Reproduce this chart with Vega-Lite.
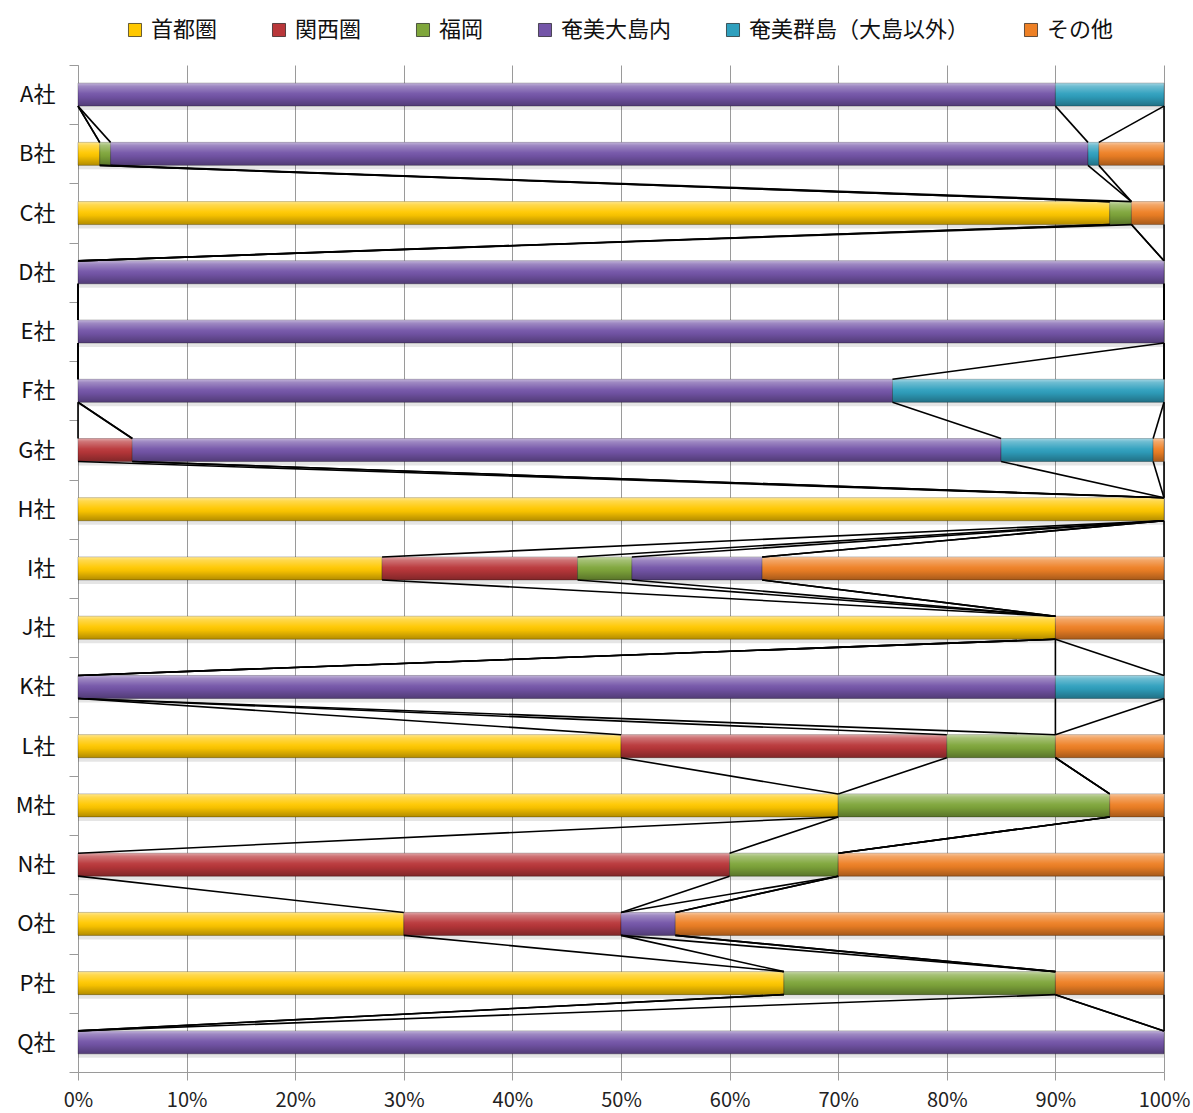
{
  "$schema": "https://vega.github.io/schema/vega-lite/v6.json",
  "autosize": "none",
  "width": 1086,
  "height": 1007,
  "padding": {"left": 78, "top": 65, "right": 29, "bottom": 41},
  "background": "white",
  "config": {
    "font": "Noto Sans CJK JP",
    "view": {"stroke": null}
  },
  "data": {
    "values": [
      {"company": "A社", "series": "首都圏", "value": 0},
      {"company": "A社", "series": "関西圏", "value": 0},
      {"company": "A社", "series": "福岡", "value": 0},
      {"company": "A社", "series": "奄美大島内", "value": 90},
      {"company": "A社", "series": "奄美群島（大島以外）", "value": 10},
      {"company": "A社", "series": "その他", "value": 0},
      {"company": "B社", "series": "首都圏", "value": 2},
      {"company": "B社", "series": "関西圏", "value": 0},
      {"company": "B社", "series": "福岡", "value": 1},
      {"company": "B社", "series": "奄美大島内", "value": 90},
      {"company": "B社", "series": "奄美群島（大島以外）", "value": 1},
      {"company": "B社", "series": "その他", "value": 6},
      {"company": "C社", "series": "首都圏", "value": 95},
      {"company": "C社", "series": "関西圏", "value": 0},
      {"company": "C社", "series": "福岡", "value": 2},
      {"company": "C社", "series": "奄美大島内", "value": 0},
      {"company": "C社", "series": "奄美群島（大島以外）", "value": 0},
      {"company": "C社", "series": "その他", "value": 3},
      {"company": "D社", "series": "首都圏", "value": 0},
      {"company": "D社", "series": "関西圏", "value": 0},
      {"company": "D社", "series": "福岡", "value": 0},
      {"company": "D社", "series": "奄美大島内", "value": 100},
      {"company": "D社", "series": "奄美群島（大島以外）", "value": 0},
      {"company": "D社", "series": "その他", "value": 0},
      {"company": "E社", "series": "首都圏", "value": 0},
      {"company": "E社", "series": "関西圏", "value": 0},
      {"company": "E社", "series": "福岡", "value": 0},
      {"company": "E社", "series": "奄美大島内", "value": 100},
      {"company": "E社", "series": "奄美群島（大島以外）", "value": 0},
      {"company": "E社", "series": "その他", "value": 0},
      {"company": "F社", "series": "首都圏", "value": 0},
      {"company": "F社", "series": "関西圏", "value": 0},
      {"company": "F社", "series": "福岡", "value": 0},
      {"company": "F社", "series": "奄美大島内", "value": 75},
      {"company": "F社", "series": "奄美群島（大島以外）", "value": 25},
      {"company": "F社", "series": "その他", "value": 0},
      {"company": "G社", "series": "首都圏", "value": 0},
      {"company": "G社", "series": "関西圏", "value": 5},
      {"company": "G社", "series": "福岡", "value": 0},
      {"company": "G社", "series": "奄美大島内", "value": 80},
      {"company": "G社", "series": "奄美群島（大島以外）", "value": 14},
      {"company": "G社", "series": "その他", "value": 1},
      {"company": "H社", "series": "首都圏", "value": 100},
      {"company": "H社", "series": "関西圏", "value": 0},
      {"company": "H社", "series": "福岡", "value": 0},
      {"company": "H社", "series": "奄美大島内", "value": 0},
      {"company": "H社", "series": "奄美群島（大島以外）", "value": 0},
      {"company": "H社", "series": "その他", "value": 0},
      {"company": "I社", "series": "首都圏", "value": 28},
      {"company": "I社", "series": "関西圏", "value": 18},
      {"company": "I社", "series": "福岡", "value": 5},
      {"company": "I社", "series": "奄美大島内", "value": 12},
      {"company": "I社", "series": "奄美群島（大島以外）", "value": 0},
      {"company": "I社", "series": "その他", "value": 37},
      {"company": "J社", "series": "首都圏", "value": 90},
      {"company": "J社", "series": "関西圏", "value": 0},
      {"company": "J社", "series": "福岡", "value": 0},
      {"company": "J社", "series": "奄美大島内", "value": 0},
      {"company": "J社", "series": "奄美群島（大島以外）", "value": 0},
      {"company": "J社", "series": "その他", "value": 10},
      {"company": "K社", "series": "首都圏", "value": 0},
      {"company": "K社", "series": "関西圏", "value": 0},
      {"company": "K社", "series": "福岡", "value": 0},
      {"company": "K社", "series": "奄美大島内", "value": 90},
      {"company": "K社", "series": "奄美群島（大島以外）", "value": 10},
      {"company": "K社", "series": "その他", "value": 0},
      {"company": "L社", "series": "首都圏", "value": 50},
      {"company": "L社", "series": "関西圏", "value": 30},
      {"company": "L社", "series": "福岡", "value": 10},
      {"company": "L社", "series": "奄美大島内", "value": 0},
      {"company": "L社", "series": "奄美群島（大島以外）", "value": 0},
      {"company": "L社", "series": "その他", "value": 10},
      {"company": "M社", "series": "首都圏", "value": 70},
      {"company": "M社", "series": "関西圏", "value": 0},
      {"company": "M社", "series": "福岡", "value": 25},
      {"company": "M社", "series": "奄美大島内", "value": 0},
      {"company": "M社", "series": "奄美群島（大島以外）", "value": 0},
      {"company": "M社", "series": "その他", "value": 5},
      {"company": "N社", "series": "首都圏", "value": 0},
      {"company": "N社", "series": "関西圏", "value": 60},
      {"company": "N社", "series": "福岡", "value": 10},
      {"company": "N社", "series": "奄美大島内", "value": 0},
      {"company": "N社", "series": "奄美群島（大島以外）", "value": 0},
      {"company": "N社", "series": "その他", "value": 30},
      {"company": "O社", "series": "首都圏", "value": 30},
      {"company": "O社", "series": "関西圏", "value": 20},
      {"company": "O社", "series": "福岡", "value": 0},
      {"company": "O社", "series": "奄美大島内", "value": 5},
      {"company": "O社", "series": "奄美群島（大島以外）", "value": 0},
      {"company": "O社", "series": "その他", "value": 45},
      {"company": "P社", "series": "首都圏", "value": 65},
      {"company": "P社", "series": "関西圏", "value": 0},
      {"company": "P社", "series": "福岡", "value": 25},
      {"company": "P社", "series": "奄美大島内", "value": 0},
      {"company": "P社", "series": "奄美群島（大島以外）", "value": 0},
      {"company": "P社", "series": "その他", "value": 10},
      {"company": "Q社", "series": "首都圏", "value": 0},
      {"company": "Q社", "series": "関西圏", "value": 0},
      {"company": "Q社", "series": "福岡", "value": 0},
      {"company": "Q社", "series": "奄美大島内", "value": 100},
      {"company": "Q社", "series": "奄美群島（大島以外）", "value": 0},
      {"company": "Q社", "series": "その他", "value": 0}
    ]
  },
  "transform": [
    {"stack": "value", "groupby": ["company"], "offset": "normalize", "as": ["x0", "x1"]},
    {
      "window": [
        {"op": "lead", "field": "x1", "as": "nx1"},
        {"op": "lead", "field": "company", "as": "ncompany"}
      ],
      "groupby": ["series"]
    }
  ],
  "encoding": {
    "x": {
      "field": "x0",
      "type": "quantitative",
      "title": null,
      "scale": {"domain": [0, 1], "nice": false},
      "axis": {
        "title": null,
        "format": ".0%",
        "values": [0, 0.1, 0.2, 0.3, 0.4, 0.5, 0.6, 0.7, 0.8, 0.9, 1],
        "grid": true,
        "gridColor": "#9a9a9a",
        "domainColor": "#9a9a9a",
        "tickColor": "#9a9a9a",
        "tickSize": 8,
        "labelFlush": false,
        "labelFontSize": 20,
        "labelColor": "#222222",
        "labelPadding": 10
      }
    },
    "x2": {"field": "x1"},
    "y": {
      "field": "company",
      "type": "nominal",
      "sort": null,
      "title": null,
      "scale": {"paddingInner": 0, "paddingOuter": 0},
      "axis": {
        "title": null,
        "grid": false,
        "tickBand": "extent",
        "domainColor": "#9a9a9a",
        "tickColor": "#9a9a9a",
        "tickSize": 9,
        "labelFontSize": 22,
        "labelColor": "#111111",
        "labelPadding": 14
      }
    }
  },
  "layer": [
    {
      "transform": [{"filter": "datum.value > 0"}],
      "mark": {"type": "bar", "height": {"band": 0.388}, "color": "#000000", "opacity": 0.1, "yOffset": 4}
    },
    {
      "transform": [{"filter": "datum.value > 0"}],
      "mark": {"type": "bar", "height": {"band": 0.388}, "stroke": "#000000", "strokeOpacity": 0.35, "strokeWidth": 0.8},
      "encoding": {
        "color": {
          "field": "series",
          "type": "nominal",
          "scale": {
            "domain": ["首都圏", "関西圏", "福岡", "奄美大島内", "奄美群島（大島以外）", "その他"],
            "range": ["#FFC800", "#B9373A", "#7FA63B", "#7455A8", "#2FA0BE", "#EE8025"]
          },
          "legend": {
            "title": null,
            "orient": "none",
            "direction": "horizontal",
            "legendX": 46,
            "legendY": -46,
            "symbolType": "square",
            "symbolSize": 170,
            "symbolStrokeWidth": 0.6,
            "labelFontSize": 22,
            "labelLimit": 400,
            "labelColor": "#111111",
            "labelOffset": 5,
            "columnPadding": 50
          }
        }
      }
    },
    {
      "transform": [{"filter": "datum.value > 0"}],
      "mark": {
        "type": "bar",
        "height": {"band": 0.388},
        "color": {
          "gradient": "linear",
          "x1": 0, "y1": 0, "x2": 0, "y2": 1,
          "stops": [
            {"offset": 0, "color": "rgba(255,255,255,0.55)"},
            {"offset": 0.14, "color": "rgba(255,255,255,0.3)"},
            {"offset": 0.45, "color": "rgba(255,255,255,0.04)"},
            {"offset": 0.6, "color": "rgba(0,0,0,0.04)"},
            {"offset": 1, "color": "rgba(0,0,0,0.3)"}
          ]
        }
      }
    },
    {
      "transform": [{"filter": "isValid(datum.ncompany)"}],
      "mark": {"type": "rule", "color": "#000000", "strokeWidth": 1.6},
      "encoding": {
        "x": {"field": "x1", "type": "quantitative", "title": null},
        "x2": {"field": "nx1"},
        "y": {"field": "company", "type": "nominal", "sort": null, "title": null, "bandPosition": 0.694},
        "y2": {"field": "ncompany", "bandPosition": 0.306}
      }
    }
  ]
}
